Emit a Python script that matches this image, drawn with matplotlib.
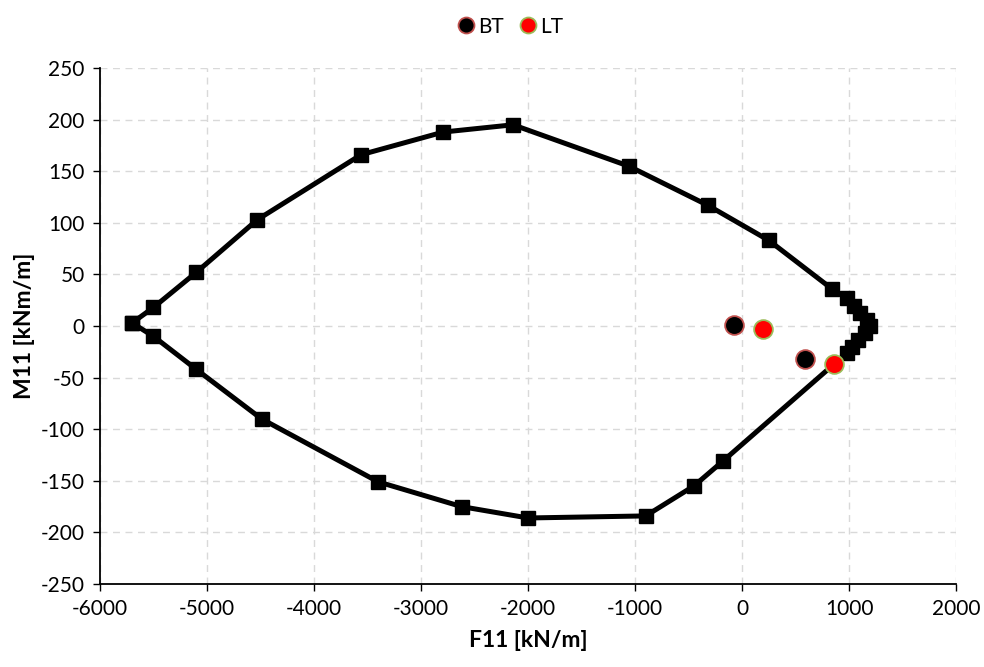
import matplotlib
matplotlib.use("Agg")
import matplotlib.pyplot as plt

plt.rcParams['font.family'] = ['Lato', 'DejaVu Sans']
plt.rcParams['axes.unicode_minus'] = False

# Interaction envelope (F11, M11), traversed around the closed curve
env_f11 = [-5700, -5500, -5100, -4530, -3560, -2790, -2140, -1060, -320, 250,
           840, 980, 1050, 1100, 1170, 1200, 1150, 1085, 1030, 980,
           -180, -450, -900, -2000, -2620, -3400, -4490, -5100, -5500, -5700]
env_m11 = [3, 18, 52, 103, 166, 188, 195, 155, 117, 83,
           36, 27, 19, 13, 6, 0, -7, -14, -20, -26,
           -131, -155, -184, -186, -175, -151, -90, -42, -10, 3]

# Load cases
bt_f11 = [-75, 590]
bt_m11 = [1, -32]
lt_f11 = [200, 860]
lt_m11 = [-3, -37]

x_ticks = [-6000, -5000, -4000, -3000, -2000, -1000, 0, 1000, 2000]
y_ticks = [-250, -200, -150, -100, -50, 0, 50, 100, 150, 200, 250]

fig = plt.figure(figsize=(9.84, 6.67), dpi=100)
ax = fig.add_axes([0.1016, 0.1244, 0.870, 0.7736])

ax.plot(env_f11, env_m11, color='black', lw=3.6, marker='s', ms=10,
        zorder=3)
ax.plot(bt_f11, bt_m11, ls='none', marker='o', ms=13.5, mfc='black',
        mec='#c0504d', mew=1.3, label='BT', zorder=4)
ax.plot(lt_f11, lt_m11, ls='none', marker='o', ms=13.5, mfc='#ff0000',
        mec='#9bbb59', mew=1.3, label='LT', zorder=4)

ax.set_xlim(-6000, 2000)
ax.set_ylim(-250, 250)
ax.set_xticks(x_ticks)
ax.set_yticks(y_ticks)
ax.tick_params(labelsize=15, direction='out', length=5, width=1,
               colors='black', pad=6)
ax.grid(True, color='#d9d9d9', ls=(0, (5, 4)), lw=1)
ax.set_axisbelow(True)

for s in ['top', 'right']:
    ax.spines[s].set_visible(False)
for s in ['left', 'bottom']:
    ax.spines[s].set_linewidth(1.3)

ax.set_xlabel('F11 [kN/m]', fontsize=16.5, fontweight='bold', labelpad=8)
ax.set_ylabel('M11 [kNm/m]', fontsize=16.5, fontweight='bold', labelpad=4)

fig.legend(loc='upper center', bbox_to_anchor=(0.517, 1.003), ncol=2,
           frameon=False, fontsize=15, handletextpad=0.05,
           columnspacing=0.6, markerscale=0.85, handlelength=1.1)

fig.savefig('out.png', dpi=100)
